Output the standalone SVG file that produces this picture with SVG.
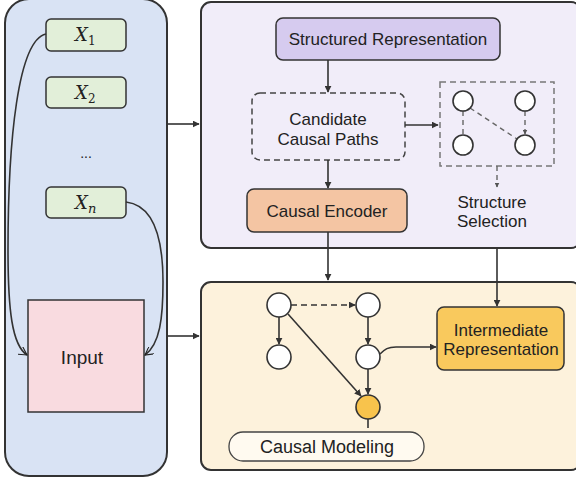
<svg xmlns="http://www.w3.org/2000/svg" width="576" height="480" viewBox="0 0 576 480">
  <defs>
    <marker id="arr" viewBox="0 0 10 10" refX="9" refY="5" markerWidth="7" markerHeight="7" markerUnits="userSpaceOnUse" orient="auto">
      <path d="M0,0 L10,5 L0,10 Z" fill="#333"/>
    </marker>
    <marker id="arrSm" viewBox="0 0 10 10" refX="9" refY="5" markerWidth="5" markerHeight="5" markerUnits="userSpaceOnUse" orient="auto">
      <path d="M0,0 L10,5 L0,10 Z" fill="#555"/>
    </marker>
    <marker id="chev" viewBox="0 0 10 10" refX="9" refY="5" markerWidth="9" markerHeight="9" markerUnits="userSpaceOnUse" orient="auto">
      <path d="M0,0 L9,5 L0,10" fill="none" stroke="#222" stroke-width="1.2"/>
    </marker>
    <style>
      .txt { font-family: "Liberation Sans", Arial, sans-serif; fill: #222; text-anchor: middle; }
      .math { font-family: "DejaVu Serif", "Liberation Serif", serif; font-style: italic; fill: #222; }
      .sub { font-family: "DejaVu Serif", "Liberation Serif", serif; font-style: normal; fill: #222; }
      .box { stroke: #333; stroke-width: 1.5; }
      .panel { stroke: #333; stroke-width: 2; }
      .conn { stroke: #333; stroke-width: 1.6; fill: none; }
      .dash { stroke: #666; stroke-width: 1.4; fill: none; stroke-dasharray: 5 4; }
      .node { fill: #fff; stroke: #333; stroke-width: 1.6; }
    </style>
  </defs>

  <!-- left panel: input variables -->
  <g id="input-panel">
    <rect x="5" y="-1" width="162" height="477" rx="24" fill="#d9e3f4" class="panel" stroke-width="1.5"/>
  </g>
  <g id="x1">
    <rect x="46" y="19" width="80" height="32" rx="5" fill="#e2efd9" class="box"/>
    <text x="75" y="41" class="math" font-size="18">X</text>
    <text x="88" y="45" class="sub" font-size="12">1</text>
  </g>
  <g id="x2">
    <rect x="46" y="77" width="80" height="31" rx="5" fill="#e2efd9" class="box"/>
    <text x="75" y="99" class="math" font-size="18">X</text>
    <text x="88" y="103" class="sub" font-size="12">2</text>
  </g>
  <g id="dots">
    <text x="86" y="158" class="txt" font-size="14">...</text>
  </g>
  <g id="xn">
    <rect x="46" y="187" width="80" height="31" rx="5" fill="#e2efd9" class="box"/>
    <text x="75" y="209" class="math" font-size="18">X</text>
    <text x="88" y="213" class="math" font-size="13">n</text>
  </g>
  <g id="input">
    <rect x="28" y="300" width="116" height="112" fill="#f9dbe0" class="box" stroke-width="1.2"/>
    <text x="82" y="364" class="txt" font-size="19">Input</text>
  </g>

  <!-- top right panel -->
  <g id="structure-panel">
    <rect x="201" y="2" width="380" height="246" rx="10" fill="#f1edf9" class="panel"/>
  </g>
  <g id="structured-representation">
    <rect x="276" y="18" width="224" height="42" rx="7" fill="#d6cbef" class="box" stroke-width="1.8"/>
    <text x="388" y="45" class="txt" font-size="17">Structured Representation</text>
  </g>
  <g id="candidate-paths">
    <rect x="252" y="93" width="153" height="67" rx="8" fill="none" stroke="#444" stroke-width="1.5" stroke-dasharray="6 4"/>
    <text x="328" y="125" class="txt" font-size="17">Candidate</text>
    <text x="328" y="145" class="txt" font-size="17">Causal Paths</text>
  </g>
  <g id="structure-graph">
    <rect x="440" y="82" width="114" height="84" fill="none" stroke="#777" stroke-width="1.5" stroke-dasharray="6 4"/>
    <line x1="463" y1="111" x2="463" y2="135" class="dash"/>
    <line x1="525" y1="111" x2="525" y2="134" class="dash" marker-end="url(#arrSm)"/>
    <line x1="470" y1="108" x2="517" y2="139" class="dash"/>
    <circle cx="463" cy="101" r="10" class="node"/>
    <circle cx="525" cy="101" r="10" class="node"/>
    <circle cx="463" cy="145" r="10" class="node"/>
    <circle cx="525" cy="145" r="10" class="node"/>
  </g>
  <g id="structure-selection">
    <text x="492" y="208" class="txt" font-size="17">Structure</text>
    <text x="492" y="227" class="txt" font-size="17">Selection</text>
  </g>
  <g id="causal-encoder">
    <rect x="247" y="189" width="160" height="43" rx="7" fill="#f4c5a3" class="box" stroke-width="1.8"/>
    <text x="327" y="217" class="txt" font-size="17">Causal Encoder</text>
  </g>

  <!-- bottom right panel -->
  <g id="modeling-panel">
    <rect x="201" y="282" width="380" height="188" rx="10" fill="#fdf2dc" class="panel"/>
  </g>
  <g id="intermediate-representation">
    <rect x="437" y="307" width="127" height="63" rx="7" fill="#f9c95d" class="box" stroke-width="1.8"/>
    <text x="501" y="336" class="txt" font-size="17">Intermediate</text>
    <text x="501" y="355" class="txt" font-size="17">Representation</text>
  </g>
  <g id="causal-graph">
    <circle cx="279" cy="305" r="12" class="node"/>
    <circle cx="368" cy="305" r="12" class="node"/>
    <circle cx="279" cy="357" r="12" class="node"/>
    <circle cx="368" cy="357" r="12" class="node"/>
    <circle cx="368" cy="407" r="12" fill="#f8c34c" stroke="#333" stroke-width="1.6"/>
  </g>
  <g id="causal-modeling">
    <rect x="229" y="432" width="195" height="29" rx="14" fill="#fffaf0" stroke="#444" stroke-width="1.3"/>
    <text x="327" y="453" class="txt" font-size="18">Causal Modeling</text>
  </g>

  <!-- connectors -->
  <g id="connectors">
    <path d="M46,34 C18,40 8,140 8,250 C8,310 12,345 27,355" class="conn" stroke="#222" stroke-width="1.2" marker-end="url(#chev)"/>
    <path d="M126,202 C152,205 163,235 163,282 C163,318 160,344 145,355" class="conn" stroke="#222" stroke-width="1.2" marker-end="url(#chev)"/>
    <line x1="167" y1="124" x2="199" y2="124" class="conn" marker-end="url(#arr)"/>
    <line x1="167" y1="336" x2="199" y2="336" class="conn" marker-end="url(#arr)"/>
    <line x1="328" y1="60" x2="328" y2="92" class="conn" marker-end="url(#arr)"/>
    <line x1="405" y1="125" x2="438" y2="125" class="conn" marker-end="url(#arr)"/>
    <line x1="497" y1="166" x2="497" y2="187" class="dash" marker-end="url(#arrSm)"/>
    <line x1="328" y1="160" x2="328" y2="188" class="conn" marker-end="url(#arr)"/>
    <line x1="328" y1="232" x2="328" y2="280" class="conn" marker-end="url(#arr)"/>
    <line x1="497" y1="248" x2="497" y2="306" class="conn" marker-end="url(#arr)"/>
    <line x1="279" y1="317" x2="279" y2="344" class="conn" marker-end="url(#arr)"/>
    <line x1="291" y1="305" x2="355" y2="305" class="conn" stroke-dasharray="6 4" marker-end="url(#arr)"/>
    <line x1="368" y1="317" x2="368" y2="344" class="conn" marker-end="url(#arr)"/>
    <line x1="288" y1="314" x2="361" y2="396" class="conn" marker-end="url(#arr)"/>
    <line x1="368" y1="369" x2="368" y2="394" class="conn" marker-end="url(#arr)"/>
    <path d="M380,354 C385,349 388,347 396,347 L436,347" class="conn" marker-end="url(#arr)"/>
    <line x1="368" y1="419" x2="368" y2="428" class="conn"/>
  </g>
</svg>
